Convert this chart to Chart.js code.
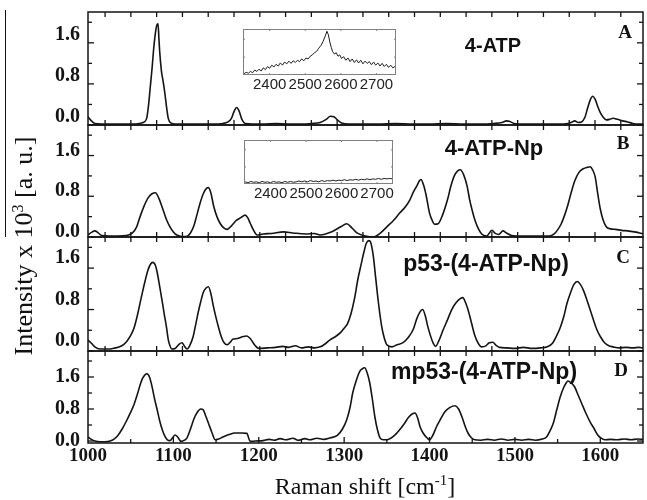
<!DOCTYPE html>
<html>
<head>
<meta charset="utf-8">
<script src="https://cdn.jsdelivr.net/npm/chart.js@4.4.1/dist/chart.umd.min.js"></script>
<style>
  body { margin: 0; background: #fff; }
  #wrap { position: relative; width: 647px; height: 500px; overflow: hidden; background: #fff; }
  canvas { position: absolute; left: 0; }
  .lbl { position: absolute; transform: translate(-50%, -50%); white-space: nowrap; color: #111; }
  .name { font-family: "Liberation Sans", Arial, sans-serif; font-weight: bold; }
  .letter { font-family: "Liberation Serif", "Times New Roman", serif; font-weight: bold; font-size: 19px; }
  .title { font-family: "Liberation Serif", "Times New Roman", serif; }
</style>
</head>
<body>
<div id="wrap">
  <canvas id="panelA" width="647" height="141" style="top:-2px"></canvas>
  <canvas id="panelB" width="647" height="140" style="top:111px"></canvas>
  <canvas id="panelC" width="647" height="142" style="top:223px"></canvas>
  <canvas id="panelD" width="647" height="136" style="top:337px"></canvas>
  <canvas id="insetA" width="157" height="66" style="left:241px; top:27px"></canvas>
  <canvas id="insetB" width="153" height="64" style="left:242px; top:138px"></canvas>

  <div class="lbl name" style="left:493px; top:45px; font-size:20px">4-ATP</div>
  <div class="lbl name" style="left:494px; top:148px; font-size:22px">4-ATP-Np</div>
  <div class="lbl name" style="left:486px; top:263px; font-size:23px">p53-(4-ATP-Np)</div>
  <div class="lbl name" style="left:484px; top:371px; font-size:23px">mp53-(4-ATP-Np)</div>
  <div class="lbl letter" style="left:625px; top:32px">A</div>
  <div class="lbl letter" style="left:623px; top:143px">B</div>
  <div class="lbl letter" style="left:623px; top:257px">C</div>
  <div class="lbl letter" style="left:621px; top:370px">D</div>

  <div class="lbl title" style="left:24px; top:246px; font-size:26px; transform:translate(-50%,-50%) rotate(-90deg)">Intensity x 10<sup style="font-size:16px">3</sup> [a. u.]</div>
  <div class="lbl title" style="left:365px; top:486px; font-size:24px">Raman shift [cm<sup style="font-size:15px">-1</sup>]</div>
  <div style="position:absolute; left:5px; top:10px; width:1px; height:227px; background:#111"></div>
</div>

<script>
// Raman spectra, [shift cm-1, intensity x10^3]
const spectrumA = [
  [1000,0.16],[1004,0.08],[1008,0.03],[1016,0.02],[1028,0.02],[1040,0.02],[1052,0.02],[1060,0.03],
  [1066,0.06],[1069,0.15],[1071,0.4],[1073,0.75],[1075,1.1],[1077,1.5],[1079,1.8],[1081,1.96],
  [1082,1.97],[1083,1.7],[1084,1.42],[1086,1.05],[1088,0.85],[1090,0.62],[1092,0.35],[1094,0.13],
  [1097,0.04],[1102,0.02],[1115,0.02],[1130,0.02],[1145,0.02],[1158,0.03],[1164,0.06],[1168,0.13],
  [1171,0.26],[1174,0.34],[1177,0.27],[1180,0.12],[1184,0.03],[1192,0.02],[1205,0.02],[1220,0.03],
  [1235,0.02],[1250,0.02],[1262,0.03],[1272,0.05],[1279,0.11],[1284,0.17],[1288,0.16],[1292,0.1],
  [1297,0.04],[1305,0.02],[1320,0.02],[1340,0.02],[1360,0.03],[1380,0.02],[1400,0.02],[1420,0.03],
  [1440,0.02],[1460,0.02],[1475,0.03],[1485,0.05],[1490,0.08],[1494,0.07],[1499,0.03],[1510,0.02],
  [1530,0.02],[1550,0.02],[1562,0.03],[1567,0.06],[1570,0.08],[1574,0.05],[1578,0.06],[1582,0.15],
  [1585,0.32],[1588,0.48],[1591,0.56],[1594,0.5],[1597,0.36],[1600,0.24],[1603,0.16],[1607,0.1],
  [1611,0.11],[1615,0.13],[1620,0.11],[1626,0.08],[1632,0.06],[1638,0.03],[1644,0.02],[1650,0.02]
];

const spectrumB = [
  [1000,0.04],[1004,0.09],[1008,0.12],[1012,0.08],[1016,0.03],[1025,0.02],[1035,0.02],[1045,0.03],
  [1052,0.08],[1057,0.2],[1061,0.4],[1066,0.62],[1070,0.76],[1075,0.85],[1079,0.87],[1083,0.76],
  [1088,0.53],[1092,0.34],[1096,0.2],[1100,0.1],[1104,0.04],[1110,0.01],[1115,0.01],[1120,0.08],
  [1124,0.22],[1127,0.4],[1131,0.65],[1135,0.85],[1139,0.96],[1141,0.97],[1144,0.86],[1147,0.62],
  [1151,0.4],[1155,0.26],[1159,0.18],[1163,0.15],[1168,0.22],[1174,0.33],[1179,0.38],[1184,0.43],
  [1187,0.38],[1190,0.27],[1194,0.13],[1198,0.04],[1205,0.06],[1215,0.07],[1229,0.1],[1240,0.08],
  [1255,0.06],[1265,0.07],[1272,0.04],[1285,0.1],[1296,0.2],[1303,0.26],[1309,0.18],[1315,0.08],
  [1325,0.02],[1334,0.0],[1342,0.07],[1350,0.2],[1358,0.33],[1365,0.47],[1372,0.6],[1377,0.73],
  [1381,0.88],[1385,1.0],[1388,1.1],[1390,1.13],[1393,1.02],[1396,0.82],[1400,0.47],[1403,0.33],
  [1406,0.25],[1410,0.26],[1415,0.42],[1421,0.73],[1425,1.0],[1429,1.2],[1433,1.3],[1436,1.32],
  [1440,1.22],[1444,1.0],[1447,0.73],[1450,0.52],[1453,0.34],[1457,0.17],[1461,0.06],[1467,0.02],
  [1473,0.13],[1477,0.07],[1481,0.05],[1486,0.12],[1490,0.08],[1496,0.03],[1510,0.02],[1525,0.02],
  [1540,0.02],[1546,0.06],[1550,0.14],[1554,0.25],[1558,0.42],[1562,0.63],[1566,0.88],[1570,1.1],
  [1575,1.27],[1580,1.34],[1585,1.37],[1588,1.38],[1591,1.32],[1594,1.18],[1597,0.85],[1600,0.55],
  [1603,0.35],[1607,0.2],[1612,0.16],[1618,0.15],[1625,0.13],[1632,0.12],[1640,0.1],[1646,0.08],[1650,0.06]
];

const spectrumC = [
  [1000,0.21],[1004,0.15],[1008,0.08],[1014,0.04],[1020,0.04],[1026,0.04],[1032,0.06],[1037,0.08],
  [1042,0.13],[1046,0.2],[1050,0.3],[1054,0.45],[1058,0.7],[1061,0.93],[1064,1.15],[1067,1.36],
  [1070,1.55],[1073,1.67],[1076,1.71],[1079,1.65],[1081,1.52],[1084,1.24],[1087,0.95],[1089,0.74],
  [1092,0.45],[1094,0.22],[1096,0.1],[1098,0.04],[1102,0.05],[1106,0.12],[1110,0.16],[1113,0.09],
  [1116,0.04],[1119,0.1],[1123,0.27],[1126,0.5],[1129,0.74],[1132,0.95],[1135,1.13],[1138,1.21],
  [1141,1.24],[1144,1.1],[1147,0.85],[1150,0.64],[1153,0.45],[1156,0.28],[1159,0.17],[1163,0.12],
  [1166,0.16],[1170,0.23],[1175,0.24],[1180,0.27],[1186,0.29],[1190,0.24],[1193,0.17],[1196,0.1],
  [1200,0.05],[1210,0.06],[1220,0.07],[1228,0.09],[1235,0.07],[1243,0.1],[1250,0.06],[1258,0.08],
  [1265,0.06],[1272,0.08],[1278,0.14],[1283,0.21],[1290,0.28],[1296,0.36],[1300,0.44],[1304,0.53],
  [1308,0.72],[1312,1.0],[1316,1.38],[1320,1.68],[1323,1.9],[1326,2.08],[1329,2.13],[1331,2.1],
  [1334,1.85],[1337,1.4],[1340,0.95],[1344,0.47],[1347,0.25],[1350,0.12],[1356,0.08],[1362,0.12],
  [1369,0.16],[1375,0.26],[1381,0.42],[1385,0.62],[1389,0.76],[1392,0.8],[1395,0.68],[1398,0.47],
  [1401,0.3],[1404,0.16],[1407,0.09],[1411,0.2],[1416,0.41],[1421,0.6],[1426,0.8],[1431,0.93],
  [1436,1.01],[1439,1.03],[1442,0.94],[1445,0.8],[1449,0.55],[1453,0.3],[1457,0.15],[1461,0.08],
  [1466,0.1],[1470,0.16],[1474,0.17],[1478,0.11],[1482,0.07],[1490,0.06],[1500,0.05],[1510,0.07],
  [1520,0.05],[1530,0.06],[1538,0.08],[1544,0.15],[1549,0.3],[1553,0.45],[1557,0.65],[1561,0.92],
  [1565,1.12],[1569,1.28],[1573,1.34],[1576,1.3],[1580,1.18],[1584,1.0],[1588,0.8],[1592,0.6],
  [1596,0.41],[1600,0.28],[1605,0.16],[1610,0.1],[1615,0.08],[1622,0.06],[1630,0.07],[1638,0.06],
  [1645,0.07],[1650,0.06]
];

const spectrumD = [
  [1000,0.1],[1004,0.04],[1008,0.0],[1014,-0.02],[1020,-0.02],[1026,0.0],[1030,0.04],[1035,0.14],
  [1040,0.3],[1045,0.5],[1050,0.72],[1054,0.92],[1058,1.18],[1061,1.4],[1064,1.57],[1067,1.66],
  [1069,1.68],[1072,1.6],[1075,1.36],[1078,1.05],[1081,0.78],[1084,0.5],[1087,0.28],[1090,0.12],
  [1093,0.03],[1096,0.01],[1099,0.08],[1102,0.15],[1105,0.1],[1109,-0.01],[1113,0.02],[1116,0.08],
  [1120,0.3],[1124,0.55],[1128,0.72],[1132,0.8],[1135,0.78],[1138,0.62],[1141,0.45],[1145,0.22],
  [1149,0.03],[1153,0.05],[1158,0.1],[1165,0.16],[1172,0.2],[1180,0.2],[1186,0.19],[1190,-0.01],
  [1196,0.0],[1205,0.01],[1212,0.04],[1218,0.02],[1225,0.06],[1232,0.03],[1240,0.07],[1246,0.02],
  [1254,0.06],[1260,0.03],[1268,0.07],[1276,0.04],[1284,0.08],[1292,0.14],[1298,0.3],[1303,0.53],
  [1307,0.85],[1310,1.2],[1314,1.5],[1318,1.73],[1321,1.8],[1324,1.83],[1327,1.7],[1330,1.45],
  [1333,1.05],[1336,0.6],[1339,0.28],[1342,0.08],[1346,0.03],[1350,0.03],[1358,0.12],[1365,0.28],
  [1371,0.45],[1375,0.58],[1380,0.68],[1383,0.7],[1386,0.58],[1389,0.35],[1393,0.18],[1397,0.08],
  [1400,0.03],[1404,0.15],[1408,0.35],[1413,0.55],[1418,0.73],[1424,0.84],[1430,0.88],[1434,0.8],
  [1438,0.6],[1442,0.35],[1445,0.2],[1449,0.08],[1453,0.03],[1460,0.02],[1468,0.04],[1476,0.02],
  [1484,0.05],[1492,0.02],[1500,0.04],[1508,0.02],[1516,0.04],[1524,0.02],[1532,0.05],[1537,0.1],
  [1541,0.25],[1545,0.45],[1549,0.78],[1553,1.1],[1557,1.33],[1560,1.45],[1562,1.5],[1566,1.45],
  [1570,1.35],[1574,1.15],[1578,0.95],[1583,0.7],[1588,0.48],[1593,0.3],[1597,0.15],[1601,0.07],
  [1605,0.03],[1612,0.04],[1620,0.03],[1628,0.05],[1636,0.03],[1644,0.05],[1650,0.04]
];

// insets: 2300-2800 cm-1 region (S-H stretch), normalised
const insetSpectrumA = [
  [2328,0.03],[2334,0.06],[2340,0.04],[2346,0.08],[2352,0.05],[2358,0.11],[2364,0.08],[2370,0.13],
  [2376,0.09],[2382,0.16],[2388,0.12],[2394,0.19],[2400,0.15],[2406,0.22],[2412,0.18],[2418,0.24],
  [2424,0.2],[2430,0.27],[2436,0.22],[2442,0.29],[2448,0.25],[2454,0.31],[2460,0.26],[2466,0.32],
  [2472,0.28],[2478,0.33],[2484,0.3],[2490,0.36],[2496,0.32],[2502,0.38],[2508,0.36],[2514,0.42],
  [2520,0.45],[2526,0.5],[2532,0.53],[2538,0.6],[2544,0.66],[2550,0.75],[2556,0.87],[2561,0.98],
  [2565,0.9],[2569,0.74],[2573,0.62],[2577,0.52],[2582,0.47],[2587,0.5],[2592,0.42],[2597,0.45],
  [2602,0.37],[2608,0.41],[2614,0.33],[2620,0.38],[2626,0.3],[2632,0.36],[2638,0.28],[2644,0.34],
  [2650,0.27],[2656,0.33],[2662,0.25],[2668,0.31],[2674,0.26],[2680,0.3],[2686,0.23],[2692,0.29],
  [2698,0.22],[2704,0.27],[2710,0.2],[2716,0.26],[2722,0.19],[2728,0.24],[2734,0.17],[2740,0.22],
  [2746,0.16],[2752,0.19]
];

const insetSpectrumB = [
  [2328,0.05],[2336,0.03],[2344,0.06],[2352,0.04],[2360,0.05],[2368,0.03],[2376,0.06],[2384,0.04],
  [2392,0.05],[2400,0.03],[2408,0.06],[2416,0.04],[2424,0.05],[2432,0.03],[2440,0.06],[2448,0.04],
  [2456,0.06],[2464,0.04],[2472,0.05],[2480,0.07],[2488,0.05],[2496,0.07],[2504,0.05],[2512,0.08],
  [2520,0.06],[2528,0.07],[2536,0.05],[2544,0.08],[2552,0.06],[2560,0.08],[2568,0.07],[2576,0.09],
  [2584,0.07],[2592,0.09],[2600,0.08],[2608,0.1],[2616,0.08],[2624,0.1],[2632,0.09],[2640,0.11],
  [2648,0.09],[2656,0.11],[2664,0.1],[2672,0.12],[2680,0.1],[2688,0.12],[2696,0.11],[2704,0.13],
  [2712,0.11],[2720,0.13],[2728,0.12],[2736,0.13],[2744,0.12]
];

const shiftMin = 1000, shiftMax = 1650;
const yTickStep = 0.4, yLabelStep = 0.8;
const topTickStart = 1020, topTickStep = 30.2;   // ticks on the panel frames
const insetLabels = [2400, 2500, 2600, 2700];

const ink = '#141414';
const serifBold = { family: '"Liberation Serif", "Times New Roman", serif', weight: 'bold', size: 20 };

function isMultiple(v, step) {
  return Math.abs(v / step - Math.round(v / step)) < 1e-6;
}

// frame + inward ticks, drawn like the original Origin panels
const panelFrame = {
  id: 'panelFrame',
  afterDraw(chart, args, opts) {
    const { ctx, chartArea: a, scales } = chart;
    const seg = (x1, y1, x2, y2) => { ctx.beginPath(); ctx.moveTo(x1, y1); ctx.lineTo(x2, y2); ctx.stroke(); };
    ctx.save();
    ctx.strokeStyle = ink;
    ctx.lineWidth = 1.5;
    ctx.strokeRect(a.left, a.top, a.right - a.left, a.bottom - a.top);
    ctx.lineWidth = 1.3;
    scales.y.ticks.forEach(t => {
      const py = scales.y.getPixelForValue(t.value);
      const len = isMultiple(t.value, yLabelStep) ? 6 : 4;
      seg(a.left, py, a.left + len, py);
      seg(a.right, py, a.right - len, py);
    });
    for (let v = topTickStart; v < shiftMax; v += topTickStep) {
      const px = scales.x.getPixelForValue(v);
      seg(px, a.top, px, a.top + 5);
      if (!opts.bottomAxis) seg(px, a.bottom, px, a.bottom - 5);
    }
    if (opts.bottomAxis) {
      scales.x.ticks.forEach(t => {
        if (t.value <= shiftMin || t.value >= shiftMax) return;
        const px = scales.x.getPixelForValue(t.value);
        seg(px, a.bottom, px, a.bottom - (isMultiple(t.value, 100) ? 6 : 4));
      });
    }
    ctx.restore();
  }
};

const insetFrame = {
  id: 'insetFrame',
  afterDraw(chart) {
    const { ctx, chartArea: a, scales } = chart;
    const seg = (x1, y1, x2, y2) => { ctx.beginPath(); ctx.moveTo(x1, y1); ctx.lineTo(x2, y2); ctx.stroke(); };
    ctx.save();
    ctx.strokeStyle = '#808080';
    ctx.lineWidth = 1;
    ctx.strokeRect(a.left + 0.5, a.top + 0.5, a.right - a.left - 1, a.bottom - a.top - 1);
    scales.x.ticks.forEach(t => {
      const px = scales.x.getPixelForValue(t.value);
      seg(px, a.top, px, a.top + 2);
      seg(px, a.bottom, px, a.bottom - 2);
    });
    [0.4, 0.8].forEach(v => {
      const py = scales.y.getPixelForValue(v);
      seg(a.left, py, a.left + 2, py);
      seg(a.right, py, a.right - 2, py);
    });
    ctx.restore();
  }
};

// no label overhang padding: the frame sits exactly where the canvas layout puts it
function noOverhang(s) {
  s.paddingTop = 0; s.paddingBottom = 0; s.paddingLeft = 0; s.paddingRight = 0;
}

function makePanel(id, spectrum, yMin, yMax, labelShift, bottomAxis) {
  return new Chart(document.getElementById(id), {
    type: 'line',
    data: {
      datasets: [{
        data: spectrum.map(([x, y]) => ({ x, y })),
        borderColor: ink,
        borderWidth: 1.6,
        pointRadius: 0,
        cubicInterpolationMode: 'monotone',
        fill: false
      }]
    },
    options: {
      responsive: false,
      animation: false,
      events: [],
      layout: { padding: { top: 14, bottom: bottomAxis ? 0 : 14, left: 0, right: 4 } },
      plugins: {
        legend: { display: false },
        tooltip: { enabled: false },
        panelFrame: { bottomAxis: bottomAxis }
      },
      scales: {
        x: {
          type: 'linear',
          min: shiftMin,
          max: shiftMax,
          display: bottomAxis,
          grid: { display: false, drawTicks: false },
          border: { display: false },
          ticks: {
            autoSkip: false,
            maxRotation: 0,
            padding: 2,
            color: ink,
            font: { ...serifBold, size: 19 },
            callback: v => isMultiple(v, 100) ? String(v) : ''
          },
          afterBuildTicks: s => {
            const ticks = [];
            for (let v = shiftMin; v <= shiftMax; v += 50) ticks.push({ value: v });
            s.ticks = ticks;
          },
          afterFit: s => {
            noOverhang(s);
            if (bottomAxis) s.height = 30;
          }
        },
        y: {
          type: 'linear',
          min: yMin,
          max: yMax,
          grid: { display: false, drawTicks: false },
          border: { display: false },
          ticks: {
            autoSkip: false,
            padding: 8,
            labelOffset: labelShift,
            color: ink,
            font: serifBold,
            callback: v => isMultiple(v, yLabelStep) ? v.toFixed(1) : ''
          },
          afterBuildTicks: s => {
            const ticks = [];
            for (let k = 0; k * yTickStep <= yMax + 1e-9; k++) {
              ticks.push({ value: Math.round(k * yTickStep * 10) / 10 });
            }
            s.ticks = ticks;
          },
          afterFit: s => {
            noOverhang(s);
            s.width = 88;
          }
        }
      }
    },
    plugins: [panelFrame]
  });
}

function makeInset(id, spectrum, xMin, xMax) {
  return new Chart(document.getElementById(id), {
    type: 'line',
    data: {
      datasets: [{
        data: spectrum.map(([x, y]) => ({ x, y })),
        borderColor: '#1e1e1e',
        borderWidth: 1,
        pointRadius: 0,
        tension: 0,
        fill: false
      }]
    },
    options: {
      responsive: false,
      animation: false,
      events: [],
      layout: { padding: { top: 2, bottom: 0, left: 2, right: 2 } },
      plugins: { legend: { display: false }, tooltip: { enabled: false } },
      scales: {
        x: {
          type: 'linear',
          min: xMin,
          max: xMax,
          grid: { display: false, drawTicks: false },
          border: { display: false },
          ticks: {
            autoSkip: false,
            maxRotation: 0,
            padding: 1,
            color: '#222',
            font: { family: '"Liberation Sans", Arial, sans-serif', size: 15 },
            callback: v => String(v)
          },
          afterBuildTicks: s => {
            s.ticks = insetLabels.map(v => ({ value: v }));
          },
          afterFit: s => {
            noOverhang(s);
            s.height = 18;
          }
        },
        y: { type: 'linear', min: 0, max: 1.03, display: false }
      }
    },
    plugins: [insetFrame]
  });
}

makePanel('panelA', spectrumA, 0, 2.2, -8, false);
makePanel('panelB', spectrumB, 0, 2.2, -5, false);
makePanel('panelC', spectrumC, 0, 2.2, -10, false);
makePanel('panelD', spectrumD, -0.05, 2.25, 0, true);
makeInset('insetA', insetSpectrumA, 2325, 2755);
makeInset('insetB', insetSpectrumB, 2325, 2745);
</script>
</body>
</html>
